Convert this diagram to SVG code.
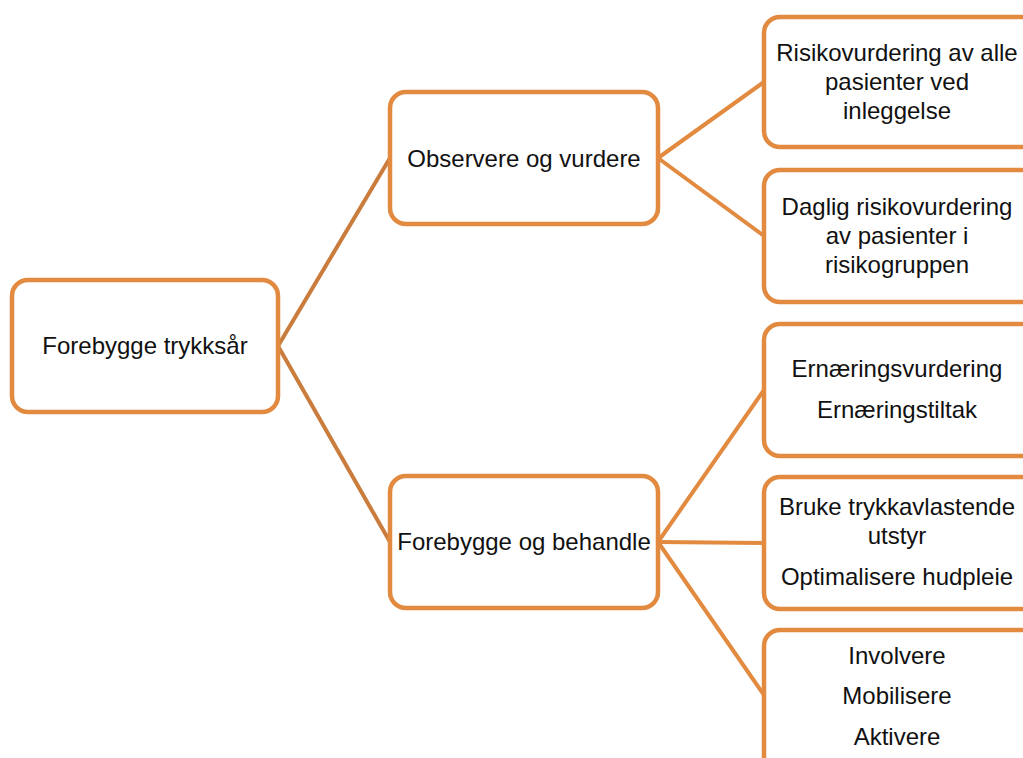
<svg xmlns="http://www.w3.org/2000/svg" width="1023" height="758" viewBox="0 0 1023 758">
<style>
.box{fill:#fff;stroke:#E28A40;stroke-width:4.5}
.t{font-family:"Liberation Sans",Arial,sans-serif;font-size:24px;fill:#111;text-anchor:middle}
.c1{stroke:#C97C3C;stroke-width:4;fill:none}
.c2{stroke:#E28A40;stroke-width:4;fill:none}
</style>
<rect width="1023" height="758" fill="#fff"/>
<g id="connectors">
<line class="c1" x1="278" y1="346" x2="390" y2="158"/>
<line class="c1" x1="278" y1="346" x2="390" y2="542"/>
<line class="c2" x1="658" y1="158" x2="764" y2="82"/>
<line class="c2" x1="658" y1="158" x2="764" y2="236"/>
<line class="c2" x1="658" y1="542" x2="764" y2="390"/>
<line class="c2" x1="658" y1="542" x2="764" y2="543"/>
<line class="c2" x1="658" y1="542" x2="764" y2="695"/>
</g>
<g id="root">
<rect class="box" x="12" y="280" width="266" height="132" rx="16"/>
<text class="t" x="145" y="354">Forebygge trykksår</text>
</g>
<g id="observe">
<rect class="box" x="390" y="92" width="268" height="132" rx="16"/>
<text class="t" x="524" y="167">Observere og vurdere</text>
</g>
<g id="prevent">
<rect class="box" x="390" y="476" width="268" height="132" rx="16"/>
<text class="t" x="524" y="550">Forebygge og behandle</text>
</g>
<g id="risk1">
<rect class="box" x="764" y="17" width="280" height="130" rx="16"/>
<text class="t" x="897" y="61">Risikovurdering av alle</text>
<text class="t" x="897" y="90">pasienter ved</text>
<text class="t" x="897" y="119">inleggelse</text>
</g>
<g id="risk2">
<rect class="box" x="764" y="170" width="280" height="132" rx="16"/>
<text class="t" x="897" y="215">Daglig risikovurdering</text>
<text class="t" x="897" y="244">av pasienter i</text>
<text class="t" x="897" y="273">risikogruppen</text>
</g>
<g id="nutrition">
<rect class="box" x="764" y="324" width="280" height="132" rx="16"/>
<text class="t" x="897" y="377">Ernæringsvurdering</text>
<text class="t" x="897" y="418">Ernæringstiltak</text>
</g>
<g id="pressure">
<rect class="box" x="764" y="477" width="280" height="132" rx="16"/>
<text class="t" x="897" y="515">Bruke trykkavlastende</text>
<text class="t" x="897" y="544">utstyr</text>
<text class="t" x="897" y="585">Optimalisere hudpleie</text>
</g>
<g id="mobilize">
<rect class="box" x="764" y="630" width="280" height="150" rx="16"/>
<text class="t" x="897" y="664">Involvere</text>
<text class="t" x="897" y="704">Mobilisere</text>
<text class="t" x="897" y="745">Aktivere</text>
</g>
</svg>
